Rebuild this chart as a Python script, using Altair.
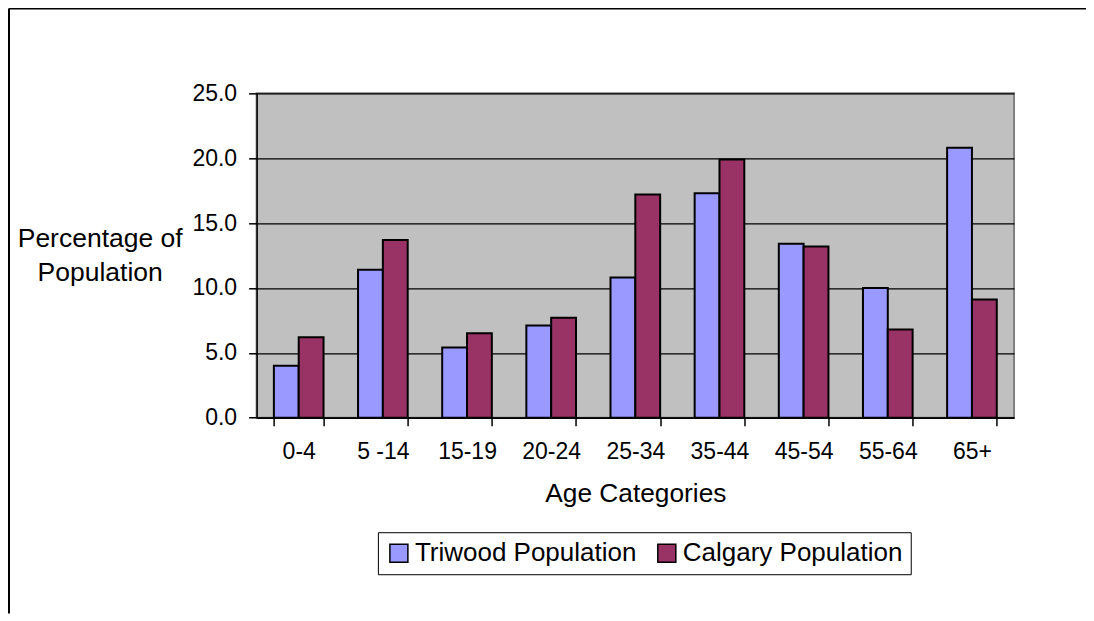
import altair as alt
import pandas as pd

categories = ["0-4", "5 -14", "15-19", "20-24", "25-34", "35-44", "45-54", "55-64", "65+"]
series_names = ["Triwood Population", "Calgary Population"]
triwood = [4.0, 11.4, 5.4, 7.1, 10.8, 17.3, 13.4, 10.0, 20.8]
calgary = [6.2, 13.7, 6.5, 7.7, 17.2, 19.9, 13.2, 6.8, 9.1]
y_ticks = [0, 5, 10, 15, 20, 25]
series_colors = ["#9999FF", "#993366"]

rows = []
for i, c in enumerate(categories):
    rows.append({"category": c, "series": series_names[0], "value": triwood[i]})
    rows.append({"category": c, "series": series_names[1], "value": calgary[i]})
df = pd.DataFrame(rows)

FONT = "Liberation Sans"
W, H = 757.6, 324.4
PAD_L, PAD_T, PAD_R, PAD_B = 248.7, 85.3, 72, 196

bars = alt.Chart(df).mark_bar(stroke="black", strokeWidth=2).encode(
    x=alt.X("category:N", sort=categories,
            scale=alt.Scale(paddingInner=0.41, paddingOuter=0.205),
            axis=alt.Axis(title="Age Categories", labelAngle=0, tickBand="extent",
                          tickSize=8, labelPadding=15, titlePadding=17,
                          labelFontSize=23, titleFontSize=26.3, labelFont=FONT,
                          titleFont=FONT, labelColor="black", titleColor="black",
                          domainColor="black", tickColor="black", domainWidth=1.5,
                          tickWidth=1.5, titleFontWeight="normal", grid=False)),
    xOffset=alt.XOffset("series:N", sort=series_names, scale=alt.Scale(paddingInner=0, paddingOuter=0)),
    y=alt.Y("value:Q", scale=alt.Scale(domain=[0, 25], nice=False),
            axis=alt.Axis(title=["Percentage of", "Population"], values=y_ticks, format=".1f",
                          tickSize=8, labelPadding=12, labelFontSize=23, labelFont=FONT,
                          titleFont=FONT, titleFontSize=26.5, titleFontWeight="normal",
                          titleAngle=0, titleAlign="center", titleBaseline="middle",
                          titleX=-157, titleY=145, titleLineHeight=34,
                          labelColor="black", titleColor="black", domainColor="black",
                          tickColor="black", domainWidth=1.5, tickWidth=1.5,
                          grid=True, gridColor="black", gridWidth=1.2)),
    color=alt.Color("series:N", sort=series_names,
                    scale=alt.Scale(domain=series_names, range=series_colors),
                    legend=alt.Legend(title=None, orient="none", legendX=121.3, legendY=439,
                                      direction="horizontal", strokeColor="black",
                                      padding=8, symbolType="square", symbolSize=324,
                                      symbolStrokeColor="black", symbolStrokeWidth=1.5,
                                      labelFontSize=26, labelFont=FONT, labelColor="black",
                                      labelLimit=400, labelOffset=3, columnPadding=17,
                                      fillColor="white")),
)

border_top = alt.Chart(pd.DataFrame({"a": [0]})).mark_rule(color="black", strokeWidth=2).encode(
    x=alt.value(-247.7), x2=alt.value(W + PAD_R), y=alt.value(-84.8))
border_left = alt.Chart(pd.DataFrame({"a": [0]})).mark_rule(color="black", strokeWidth=2).encode(
    x=alt.value(-247.7), y=alt.value(-84.8), y2=alt.value(H + PAD_B))

chart = alt.layer(bars, border_top, border_left).properties(
    width=W, height=H,
    autosize=alt.AutoSizeParams(type="none"),
    padding={"left": PAD_L, "top": PAD_T, "right": PAD_R, "bottom": PAD_B},
    background="white",
).configure_view(fill="#C0C0C0", stroke="#808080", strokeWidth=2)

chart.save("out.html", embed_options={"renderer": "svg", "actions": False})
